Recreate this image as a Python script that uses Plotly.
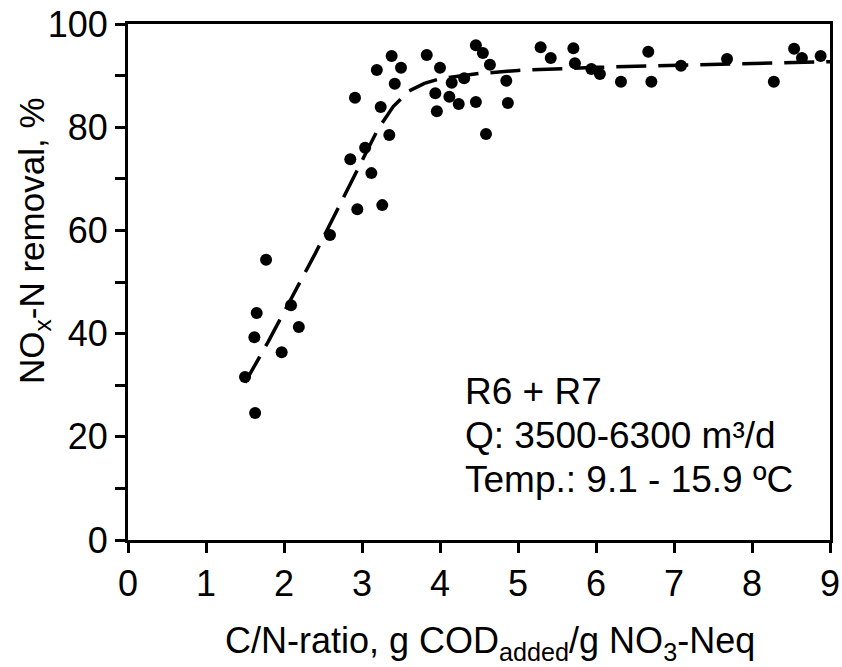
import plotly.graph_objects as go

# Observed data points (C/N ratio, NOx-N removal %)
cn_ratio = [1.50, 1.62, 1.63, 1.65, 1.77, 1.97, 2.09, 2.19, 2.59,
            2.85, 2.91, 2.94, 3.04, 3.12, 3.19, 3.24, 3.26, 3.35, 3.38, 3.42, 3.50,
            3.83, 3.94, 3.96, 4.00, 4.12, 4.15, 4.24, 4.31, 4.46, 4.46, 4.55, 4.59,
            4.64, 4.85, 4.87, 5.29, 5.42, 5.71, 5.73, 5.94, 6.05, 6.32, 6.67, 6.71,
            7.09, 7.68, 8.28, 8.54, 8.64, 8.88]
removal = [31.6, 39.3, 24.6, 44.0, 54.3, 36.4, 45.5, 41.3, 59.1,
           73.8, 85.7, 64.1, 76.0, 71.1, 91.1, 83.9, 64.9, 78.5, 93.8, 88.4, 91.5,
           94.0, 86.6, 83.1, 91.5, 85.9, 88.6, 84.5, 89.5, 84.9, 95.9, 94.4, 78.7,
           92.1, 89.0, 84.7, 95.5, 93.4, 95.3, 92.4, 91.3, 90.3, 88.8, 94.6, 88.8,
           91.9, 93.2, 88.8, 95.2, 93.4, 93.8]

# Fitted (dashed) curve
fit_x = [1.5, 1.8, 2.1, 2.4, 2.7, 3.0, 3.2, 3.4, 3.6, 3.8, 4.0, 4.5, 5.0, 6.0, 7.0, 8.0, 9.0]
fit_y = [30.5, 38.5, 47.0, 55.5, 64.5, 73.5, 79.5, 84.0, 87.0, 88.5, 89.4, 90.4, 91.0, 91.6, 92.0, 92.4, 92.7]

x_ticks = [0, 1, 2, 3, 4, 5, 6, 7, 8, 9]
y_ticks = [0, 20, 40, 60, 80, 100]
y_minor = [10, 30, 50, 70, 90]

info_lines = ["R6 + R7", "Q: 3500-6300 m³/d", "Temp.: 9.1 - 15.9 ºC"]
x_title = "C/N-ratio, g COD<sub>added</sub>/g NO<sub>3</sub>-Neq"
y_title = "NO<sub>x</sub>-N removal, %"

FONT = "Liberation Sans, Arial, Helvetica, sans-serif"
FS = 36

fig = go.Figure()
fig.add_trace(go.Scatter(
    x=fit_x, y=fit_y, mode="lines",
    line=dict(color="black", width=3.5, dash="30px,12px"),
    showlegend=False, hoverinfo="skip"))
fig.add_trace(go.Scatter(
    x=cn_ratio, y=removal, mode="markers",
    marker=dict(color="black", size=12, line=dict(width=0)),
    showlegend=False))

fig.update_layout(
    width=842, height=667,
    margin=dict(l=128, r=12, t=24, b=127),
    paper_bgcolor="white", plot_bgcolor="white",
    font=dict(family=FONT, size=FS, color="black"),
    xaxis=dict(
        range=[0, 9], tickmode="array", tickvals=x_ticks,
        ticktext=[str(v) for v in x_ticks],
        ticks="outside", ticklen=10, tickwidth=3, tickcolor="black",
        showline=True, linecolor="black", linewidth=3, mirror=True,
        showgrid=False, zeroline=False, automargin=False,
        ticklabeloverflow="allow",
        tickfont=dict(size=FS),
    ),
    yaxis=dict(
        range=[0, 100], tickmode="array", tickvals=y_ticks,
        ticktext=[str(v) for v in y_ticks],
        ticks="outside", ticklen=10, tickwidth=3, tickcolor="black",
        minor=dict(tickvals=y_minor, ticks="outside", ticklen=10,
                   tickwidth=3, tickcolor="black", showgrid=False),
        showline=True, linecolor="black", linewidth=3, mirror=True,
        showgrid=False, zeroline=False, automargin=False,
        ticklabeloverflow="allow",
        tickfont=dict(size=FS),
    ),
)

# axis titles
fig.add_annotation(x=0.516, y=-0.2, xref="paper", yref="paper", text=x_title,
                   showarrow=False, xanchor="center", yanchor="middle",
                   font=dict(size=FS, family=FONT, color="black"))
fig.add_annotation(x=-0.135, y=0.58, xref="paper", yref="paper", text=y_title,
                   textangle=-90, showarrow=False, xanchor="center", yanchor="middle",
                   font=dict(size=35, family=FONT, color="black"))

for i, line in enumerate(info_lines):
    fig.add_annotation(
        x=4.3, y=28.7 - i * 8.5, xref="x", yref="y", text=line,
        showarrow=False, xanchor="left", yanchor="middle",
        font=dict(size=37, family=FONT, color="black"))

# remove the default page margin so the figure fills the window exactly
fig.write_html("out.html",
               config={"displayModeBar": False},
               post_script="document.body.style.margin='0';document.body.style.overflow='hidden';")
